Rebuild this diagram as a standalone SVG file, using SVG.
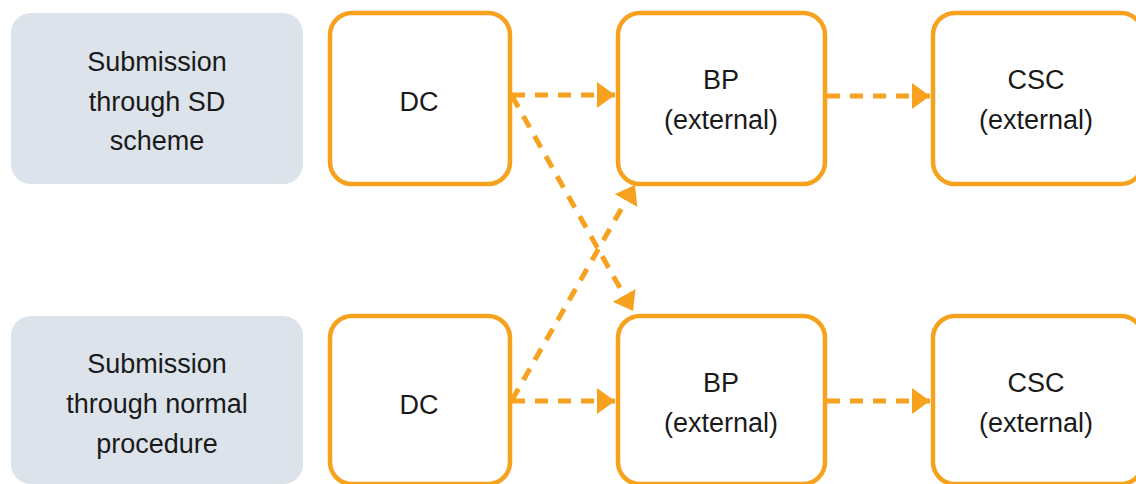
<svg xmlns="http://www.w3.org/2000/svg" width="1136" height="484" viewBox="0 0 1136 484">
<defs>
<style>
.lab{fill:#dde3ea;}
.box{fill:#fff;stroke:#f6a21e;stroke-width:4.5;}
.t{font-family:"Liberation Sans",Arial,sans-serif;font-size:27px;fill:#1a1a1a;text-anchor:middle;}
.c{stroke:#f6a21e;stroke-width:5;stroke-dasharray:13 10;fill:none;}
</style>
<marker id="ah" markerWidth="20" markerHeight="28" refX="18" refY="13" orient="auto" markerUnits="userSpaceOnUse">
<path d="M0,0 L18,13 L0,26 Z" fill="#f6a21e"/>
</marker>
</defs>
<g id="label1"><rect class="lab" x="11" y="13" width="292" height="171" rx="20"/>
<text class="t" x="157" y="71">Submission</text><text class="t" x="157" y="111">through SD</text><text class="t" x="157" y="150">scheme</text></g>
<g id="label2"><rect class="lab" x="11" y="316" width="292" height="168" rx="20"/>
<text class="t" x="157" y="373">Submission</text><text class="t" x="157" y="413">through normal</text><text class="t" x="157" y="453">procedure</text></g>
<g id="dc1"><rect class="box" x="330" y="13" width="180" height="171" rx="22"/><text class="t" x="419" y="111">DC</text></g>
<g id="bp1"><rect class="box" x="618" y="13" width="207" height="171" rx="22"/><text class="t" x="721" y="89">BP</text><text class="t" x="721" y="129">(external)</text></g>
<g id="csc1"><rect class="box" x="933" y="13" width="210" height="171" rx="22"/><text class="t" x="1036" y="89">CSC</text><text class="t" x="1036" y="129">(external)</text></g>
<g id="dc2"><rect class="box" x="330" y="316" width="180" height="168" rx="22"/><text class="t" x="419" y="414">DC</text></g>
<g id="bp2"><rect class="box" x="618" y="316" width="207" height="168" rx="22"/><text class="t" x="721" y="392">BP</text><text class="t" x="721" y="432">(external)</text></g>
<g id="csc2"><rect class="box" x="933" y="316" width="210" height="168" rx="22"/><text class="t" x="1036" y="392">CSC</text><text class="t" x="1036" y="432">(external)</text></g>
<g id="connectors">
<line class="c" x1="512" y1="95" x2="615" y2="95" marker-end="url(#ah)"/>
<line class="c" x1="827" y1="96" x2="930" y2="96" marker-end="url(#ah)"/>
<line class="c" x1="512" y1="401" x2="615" y2="401" marker-end="url(#ah)"/>
<line class="c" x1="827" y1="401" x2="930" y2="401" marker-end="url(#ah)"/>
<line class="c" x1="512" y1="96" x2="633" y2="311" marker-end="url(#ah)"/>
<line class="c" x1="512" y1="400" x2="635" y2="185" marker-end="url(#ah)"/>
</g>
</svg>
